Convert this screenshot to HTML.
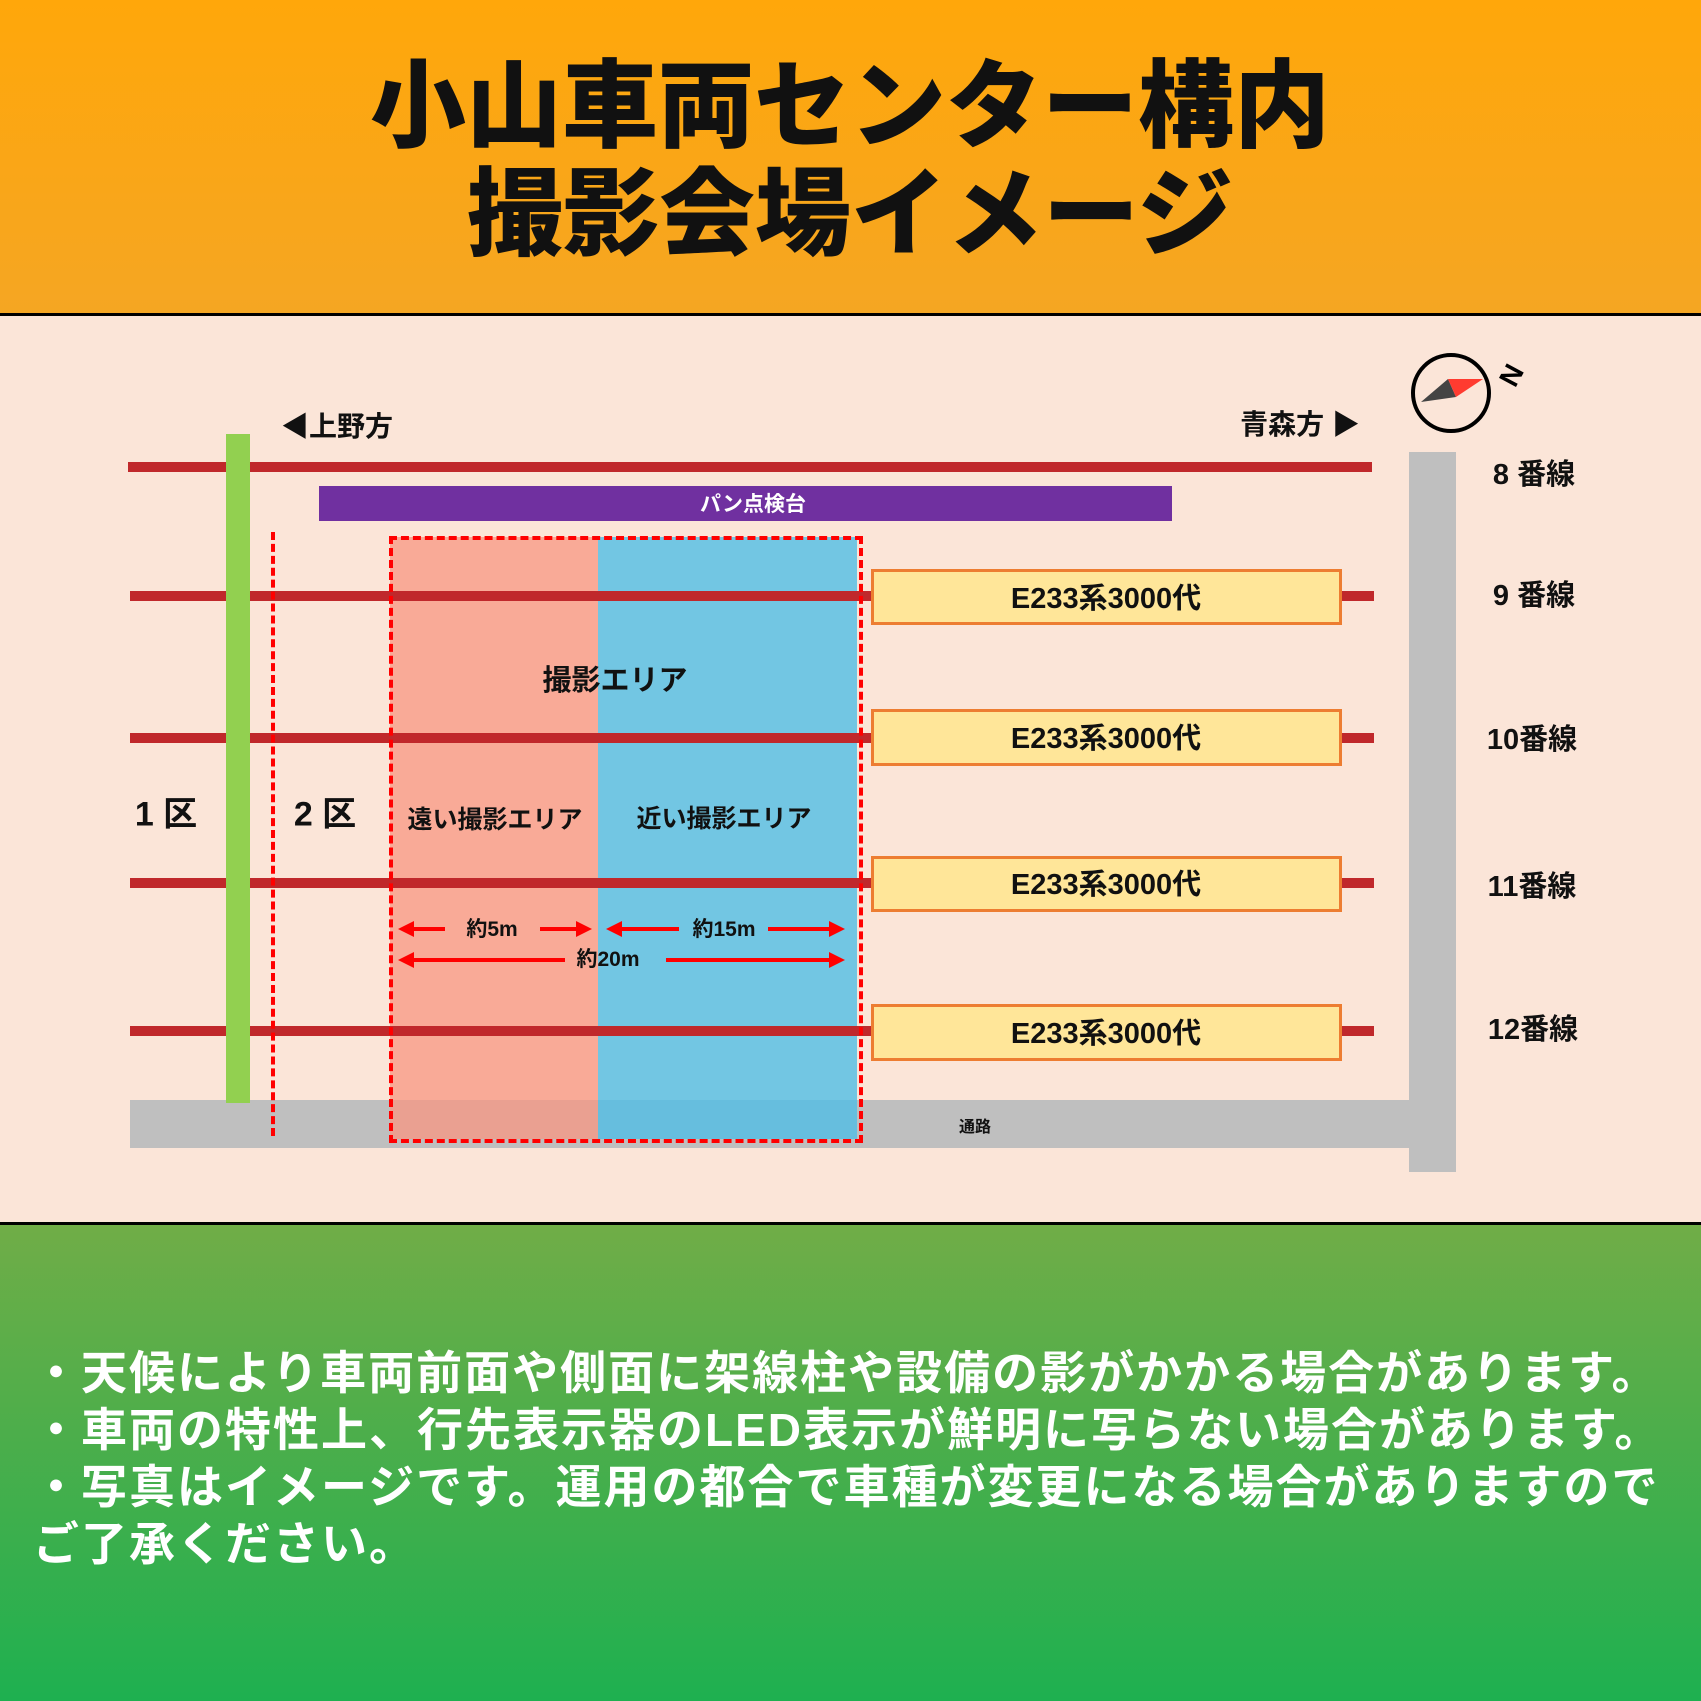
<!DOCTYPE html>
<html><head><meta charset="utf-8"><style>
body{margin:0;width:1701px;height:1701px;position:relative;overflow:hidden;font-family:"Liberation Sans","Noto Sans CJK JP",sans-serif;}
.a{position:absolute;}
.t{position:absolute;white-space:nowrap;font-weight:bold;color:#111;transform:translate(-50%,-50%);}
</style></head><body>
<div class="a" style="left:0;top:0;width:1701px;height:315px;background:linear-gradient(#FFA70A,#F5A623);"></div>
<div class="t" style="left:850px;top:98px;font-size:96px;font-weight:900;">小山車両センター構内</div>
<div class="t" style="left:850px;top:206px;font-size:96px;font-weight:900;">撮影会場イメージ</div>
<div class="a" style="left:0;top:313px;width:1701px;height:3px;background:#000;"></div>
<div class="a" style="left:0;top:316px;width:1701px;height:907px;background:#FBE5D8;"></div>
<div class="a" style="left:0;top:1222px;width:1701px;height:3px;background:#000;"></div>
<div class="a" style="left:0;top:1225px;width:1701px;height:476px;background:linear-gradient(#70AD47,#1EB050);"></div>

<div class="a" style="left:130px;top:1100px;width:1326px;height:48px;background:#BFBFBF;"></div>
<div class="a" style="left:1409px;top:452px;width:47px;height:720px;background:#BFBFBF;"></div>
<div class="t" style="left:975px;top:1125px;font-size:16px;">通路</div>

<div class="a" style="left:390px;top:537px;width:208px;height:602px;background:rgba(248,150,130,0.75);"></div>
<div class="a" style="left:598px;top:537px;width:259px;height:602px;background:rgba(80,190,230,0.8);"></div>

<div class="a" style="left:128px;top:462px;width:1244px;height:10px;background:#C0282B;"></div>
<div class="a" style="left:130px;top:591px;width:1244px;height:10px;background:#C0282B;"></div>
<div class="a" style="left:130px;top:733px;width:1244px;height:10px;background:#C0282B;"></div>
<div class="a" style="left:130px;top:878px;width:1244px;height:10px;background:#C0282B;"></div>
<div class="a" style="left:130px;top:1026px;width:1244px;height:10px;background:#C0282B;"></div>

<div class="a" style="left:226px;top:434px;width:24px;height:669px;background:#92D050;"></div>
<div class="a" style="left:319px;top:486px;width:853px;height:35px;background:#7030A0;"></div>
<div class="t" style="left:753px;top:503px;font-size:21px;color:#fff;">パン点検台</div>

<div class="a" style="left:271px;top:532px;width:0;height:604px;border-left:4px dashed #FF0000;"></div>
<div class="a" style="left:389px;top:536px;width:466px;height:599px;border:4px dashed #FF0000;"></div>

<div class="a" style="left:871px;top:569px;width:465px;height:50px;background:#FFE699;border:3px solid #ED7D31;"></div>
<div class="a" style="left:871px;top:709px;width:465px;height:51px;background:#FFE699;border:3px solid #ED7D31;"></div>
<div class="a" style="left:871px;top:856px;width:465px;height:50px;background:#FFE699;border:3px solid #ED7D31;"></div>
<div class="a" style="left:871px;top:1004px;width:465px;height:51px;background:#FFE699;border:3px solid #ED7D31;"></div>
<div class="t" style="left:1106px;top:596px;font-size:29px;">E233系3000代</div>
<div class="t" style="left:1106px;top:736px;font-size:29px;">E233系3000代</div>
<div class="t" style="left:1106px;top:882px;font-size:29px;">E233系3000代</div>
<div class="t" style="left:1106px;top:1031px;font-size:29px;">E233系3000代</div>

<div class="t" style="left:337px;top:425px;font-size:28px;">◀上野方</div>
<div class="t" style="left:1300px;top:423px;font-size:28px;">青森方 ▶</div>
<div class="t" style="left:1534px;top:472px;font-size:29px;">8 番線</div>
<div class="t" style="left:1534px;top:593px;font-size:29px;">9 番線</div>
<div class="t" style="left:1532px;top:737px;font-size:29px;">10番線</div>
<div class="t" style="left:1532px;top:884px;font-size:29px;">11番線</div>
<div class="t" style="left:1533px;top:1027px;font-size:29px;">12番線</div>
<div class="t" style="left:166px;top:811px;font-size:34px;">1 区</div>
<div class="t" style="left:325px;top:811px;font-size:34px;">2 区</div>
<div class="t" style="left:615px;top:678px;font-size:29px;">撮影エリア</div>
<div class="t" style="left:495px;top:818px;font-size:25px;">遠い撮影エリア</div>
<div class="t" style="left:724px;top:817px;font-size:25px;">近い撮影エリア</div>
<div class="t" style="left:492px;top:928px;font-size:21px;">約5m</div>
<div class="t" style="left:724px;top:928px;font-size:21px;">約15m</div>
<div class="t" style="left:608px;top:958px;font-size:21px;">約20m</div>

<svg class="a" style="left:0;top:0" width="1701" height="1701">
<defs><marker id="ah" markerWidth="4" markerHeight="4" refX="3" refY="2" orient="auto"><path d="M0,0 L4,2 L0,4z" fill="#FF0000"/></marker></defs>
<g stroke="#FF0000" stroke-width="4">
<line x1="445" y1="929" x2="402" y2="929" marker-end="url(#ah)"/>
<line x1="540" y1="929" x2="588" y2="929" marker-end="url(#ah)"/>
<line x1="679" y1="929" x2="610" y2="929" marker-end="url(#ah)"/>
<line x1="768" y1="929" x2="841" y2="929" marker-end="url(#ah)"/>
<line x1="565" y1="960" x2="402" y2="960" marker-end="url(#ah)"/>
<line x1="666" y1="960" x2="841" y2="960" marker-end="url(#ah)"/>
</g>
<circle cx="1451" cy="393" r="38" fill="none" stroke="#000" stroke-width="4"/>
<polygon points="1421,402 1448,379 1456,397" fill="#444"/>
<polygon points="1483,379 1448,379 1456,397" fill="#FF3B30"/>
<text x="1511" y="385" font-size="28" font-weight="bold" transform="rotate(-62 1511 375)" text-anchor="middle" font-family="Liberation Sans, sans-serif">N</text>
</svg>

<div class="a" style="left:33px;top:1345px;color:#fff;font-weight:bold;font-size:46px;line-height:57px;letter-spacing:2px;white-space:nowrap;">・天候により車両前面や側面に架線柱や設備の影がかかる場合があります。<br>・車両の特性上、行先表示器のLED表示が鮮明に写らない場合があります。<br>・写真はイメージです。運用の都合で車種が変更になる場合がありますので<br>ご了承ください。</div>
</body></html>
